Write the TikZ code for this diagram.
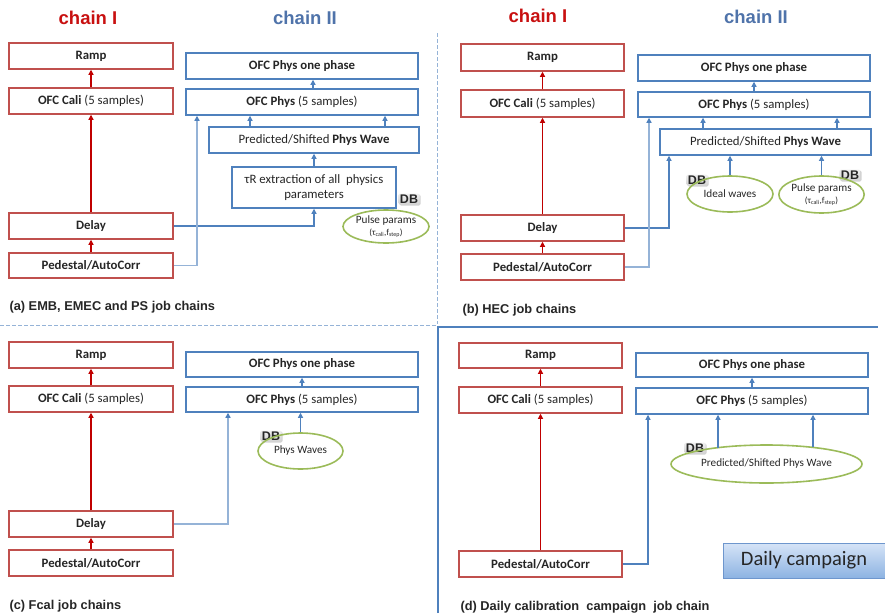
\documentclass[tikz,border=0pt]{standalone}
\usepackage{fontspec}
\setmainfont{Carlito}
\newfontfamily\capfont{Liberation Sans}
\usetikzlibrary{shapes.geometric,arrows.meta,shadows}
\definecolor{boxred}{RGB}{192,80,77}
\definecolor{arrred}{RGB}{192,0,0}
\definecolor{boxblue}{RGB}{79,129,189}
\definecolor{lblue}{RGB}{149,179,215}
\definecolor{titlered}{RGB}{200,16,16}
\definecolor{titleblue}{RGB}{79,115,170}
\definecolor{dbgreen}{RGB}{155,187,89}
\definecolor{txt}{RGB}{38,38,38}
\definecolor{daytop}{RGB}{214,228,247}
\definecolor{daybot}{RGB}{141,179,226}
\definecolor{dayline}{RGB}{110,150,205}
\newcommand\bxf{\fontsize{12.8}{14.5}\selectfont}
\newcommand\elf{\fontsize{11.2}{12.5}\selectfont}
\begin{document}
\begin{tikzpicture}[x=1pt,y=-1pt,
  rbox/.style={draw=boxred,line width=1.5pt,fill=white,inner sep=0pt,font=\bxf,text=txt},
  bbox/.style={draw=boxblue,line width=1.5pt,fill=white,inner sep=0pt,font=\bxf,text=txt},
  dbell/.style={draw=dbgreen,line width=1.6pt,ellipse,inner sep=0pt,font=\elf,text=txt,align=center},
  dbtag/.style={top color=gray!12,bottom color=gray!35,rounded corners=1.5pt,inner xsep=1.5pt,inner ysep=1.2pt,font=\capfont\bfseries\fontsize{12.5}{12.5}\selectfont,text=txt,drop shadow={opacity=0.35,shadow xshift=1pt,shadow yshift=-1pt}},
  ttl/.style={font=\capfont\bfseries\fontsize{18.5}{18.5}\selectfont},
  captxt/.style={anchor=west,font=\capfont\bfseries\fontsize{12.8}{13}\selectfont,text=txt},
  rarr/.style={draw=arrred,line width=1.1pt,-{Triangle[width=5pt,length=5pt]}},
  barr/.style={draw=boxblue,line width=1.1pt,-{Triangle[width=5pt,length=5pt]}},
  larr/.style={draw=lblue,line width=1.4pt,-{Triangle[width=5pt,length=5pt,color=boxblue]}},
  sz/.style 2 args={minimum width=#1pt,minimum height=#2pt}
]
\useasboundingbox (0,0) rectangle (885,613);
% dividers
\draw[lblue,line width=1pt,dash pattern=on 3.5pt off 2.5pt] (437,33) -- (437,324);
\draw[lblue,line width=1pt,dash pattern=on 3.5pt off 2.5pt] (0,325) -- (436,325);
\draw[boxblue,line width=2.6pt] (438,613) -- (438,327) -- (878,327);

% ================= (a)
\node[ttl,text=titlered] (t1a) at (88,18) {chain I};
\node[ttl,text=titleblue] (t2a) at (305,18) {chain II};
\node[rbox,sz={164}{26}] (ramp_a) at (91,56) {\textbf{Ramp}};
\node[rbox,sz={164}{26}] (cali_a) at (91,101) {\textbf{OFC Cali} (5 samples)};
\node[rbox,sz={164}{26}] (delay_a) at (91,226) {\textbf{Delay}};
\node[rbox,sz={164}{25}] (ped_a) at (91,265.5) {\textbf{Pedestal/AutoCorr}};
\node[bbox,sz={232}{26}] (one_a) at (302,66) {\textbf{OFC Phys one phase}};
\node[bbox,sz={232}{26}] (phys_a) at (302,102) {\textbf{OFC Phys} (5 samples)};
\node[bbox,sz={210}{26}] (pred_a) at (314,140) {Predicted/Shifted \textbf{Phys Wave}};
\node[bbox,sz={164}{41},align=center] (tau_a) at (314,187.5) {τR extraction of all\ \ physics\\parameters};
\node[dbtag] (db_a) at (409,199) {DB};
\node[dbell,sz={86}{33}] (ell_a) at (386,226.5) {Pulse params\\[-1pt]{\fontsize{9}{10}\selectfont(τ\textsubscript{cali},f\textsubscript{step})}};
\draw[rarr] (cali_a.north) -- (ramp_a.south);
\draw[rarr] (delay_a.north) -- (cali_a.south);
\draw[rarr] (ped_a.north) -- (delay_a.south);
\coordinate (pa1) at ([xshift=11pt]phys_a.north);
\coordinate (pa2) at ([xshift=-64pt]pred_a.north);
\coordinate (pa3) at ([xshift=71pt]pred_a.north);
\draw[barr] (pa1) -- (pa1 |- one_a.south);
\draw[barr] (pa2) -- (pa2 |- phys_a.south);
\draw[barr] (pa3) -- (pa3 |- phys_a.south);
\draw[barr] (tau_a.north) -- (pred_a.south);
\draw[barr] (delay_a.east) -| (tau_a.south);
\draw[larr] (ped_a.east) -| ([xshift=-105pt]phys_a.south);
\node[captxt] (cap_a) at (6,307) {(a) EMB, EMEC and PS job chains};

% ================= (b)
\node[ttl,text=titlered] (t1b) at (538,16) {chain I};
\node[ttl,text=titleblue] (t2b) at (756,17) {chain II};
\node[rbox,sz={163}{27}] (ramp_b) at (542.5,57.5) {\textbf{Ramp}};
\node[rbox,sz={163}{27}] (cali_b) at (542.5,103.5) {\textbf{OFC Cali} (5 samples)};
\node[rbox,sz={163}{26}] (delay_b) at (542.5,228) {\textbf{Delay}};
\node[rbox,sz={163}{26}] (ped_b) at (542.5,267) {\textbf{Pedestal/AutoCorr}};
\node[bbox,sz={232}{26}] (one_b) at (754,68) {\textbf{OFC Phys one phase}};
\node[bbox,sz={232}{25}] (phys_b) at (754,104.5) {\textbf{OFC Phys} (5 samples)};
\node[bbox,sz={211}{26}] (pred_b) at (765.5,142) {Predicted/Shifted \textbf{Phys Wave}};
\node[dbtag] (db_b1) at (697,180) {DB};
\node[dbell,sz={86}{36}] (ideal_b) at (730,194) {Ideal waves};
\node[dbtag] (db_b2) at (850,175) {DB};
\node[dbell,sz={85}{37}] (pulse_b) at (821.5,194.5) {Pulse params\\[-1pt]{\fontsize{9}{10}\selectfont(τ\textsubscript{cali},f\textsubscript{step})}};
\draw[rarr] (cali_b.north) -- (ramp_b.south);
\draw[rarr] (delay_b.north) -- (cali_b.south);
\draw[rarr] (ped_b.north) -- (delay_b.south);
\draw[barr] (phys_b.north) -- (one_b.south);
\coordinate (pb1) at ([xshift=-62.5pt]pred_b.north);
\coordinate (pb2) at ([xshift=71.5pt]pred_b.north);
\draw[barr] (pb1) -- (pb1 |- phys_b.south);
\draw[barr] (pb2) -- (pb2 |- phys_b.south);
\draw[barr] (ideal_b.north) -- (ideal_b.north |- pred_b.south);
\draw[barr] (pulse_b.north) -- (pulse_b.north |- pred_b.south);
\draw[barr] (delay_b.east) -| ([xshift=-96.5pt]pred_b.south);
\draw[larr] (ped_b.east) -| ([xshift=-105pt]phys_b.south);
\node[captxt] (cap_b) at (459,310) {(b) HEC job chains};

% ================= (c)
\node[rbox,sz={164}{26}] (ramp_c) at (91,355) {\textbf{Ramp}};
\node[rbox,sz={164}{26}] (cali_c) at (91,399) {\textbf{OFC Cali} (5 samples)};
\node[rbox,sz={164}{26}] (delay_c) at (91,524) {\textbf{Delay}};
\node[rbox,sz={164}{26}] (ped_c) at (91,563) {\textbf{Pedestal/AutoCorr}};
\node[bbox,sz={232}{25}] (one_c) at (302,364.5) {\textbf{OFC Phys one phase}};
\node[bbox,sz={232}{25}] (phys_c) at (302,399.5) {\textbf{OFC Phys} (5 samples)};
\node[dbtag] (db_c) at (271,436) {DB};
\node[dbell,sz={85}{36}] (ell_c) at (300.5,451) {Phys Waves};
\draw[rarr] (cali_c.north) -- (ramp_c.south);
\draw[rarr] (delay_c.north) -- (cali_c.south);
\draw[rarr] (ped_c.north) -- (delay_c.south);
\draw[barr] (phys_c.north) -- (one_c.south);
\draw[barr] (ell_c.north) -- (ell_c.north |- phys_c.south);
\draw[larr] (delay_c.east) -| ([xshift=-74pt]phys_c.south);
\node[captxt] (cap_c) at (6,606) {(c) Fcal job chains};

% ================= (d)
\node[rbox,sz={163}{25}] (ramp_d) at (540.5,355.5) {\textbf{Ramp}};
\node[rbox,sz={163}{26}] (cali_d) at (540.5,400) {\textbf{OFC Cali} (5 samples)};
\node[rbox,sz={163}{26}] (ped_d) at (540.5,564) {\textbf{Pedestal/AutoCorr}};
\node[bbox,sz={232}{24}] (one_d) at (752,365) {\textbf{OFC Phys one phase}};
\node[bbox,sz={232}{26}] (phys_d) at (752,401) {\textbf{OFC Phys} (5 samples)};
\node[dbtag] (db_d) at (695,448) {DB};
\node[dbell,sz={191}{38}] (ell_d) at (766.5,464) {Predicted/Shifted Phys Wave};
\draw[rarr] (cali_d.north) -- (ramp_d.south);
\draw[rarr] (ped_d.north) -- (cali_d.south);
\draw[barr] (phys_d.north) -- (one_d.south);
\coordinate (pd1) at ([shift={(-48.5,-16.4)}]ell_d.center);
\coordinate (pd2) at ([shift={(46.5,-16.6)}]ell_d.center);
\draw[barr] (pd1) -- (pd1 |- phys_d.south);
\draw[barr] (pd2) -- (pd2 |- phys_d.south);
\draw[barr] (ped_d.east) -| ([xshift=-104pt]phys_d.south);
\node[draw=dayline,line width=1pt,top color=daytop,bottom color=daybot,sz={162}{35},font=\fontsize{20.5}{21}\selectfont,text=txt] (daily) at (804,560.5) {Daily campaign};
\node[captxt] (cap_d) at (457,607) {(d) Daily calibration\ \ campaign\ \ job chain};
\end{tikzpicture}
\end{document}
